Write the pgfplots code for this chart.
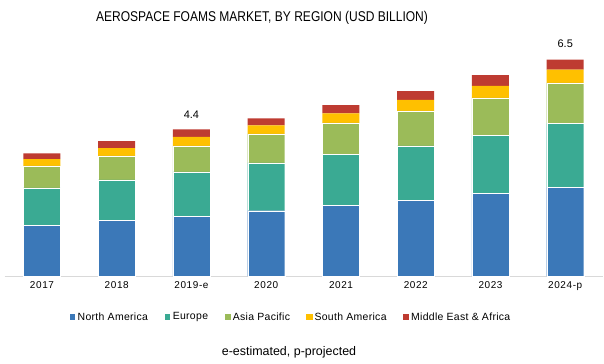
\documentclass[border=0pt]{standalone}
\usepackage{fontspec}
\setmainfont{Liberation Sans}
\newfontfamily\narrowfont[FakeStretch=0.85]{Liberation Sans}
\newfontfamily\tickfont[LetterSpace=6]{Liberation Sans}
\newfontfamily\legfont[LetterSpace=3]{Liberation Sans}
\usepackage{pgfplots}
\pgfplotsset{compat=1.18}
\definecolor{cNA}{RGB}{59,120,184}
\definecolor{cEU}{RGB}{58,170,147}
\definecolor{cAP}{RGB}{155,187,89}
\definecolor{cSA}{RGB}{255,192,0}
\definecolor{cME}{RGB}{190,59,49}
\begin{document}
\begin{tikzpicture}[x=1bp,y=1bp]
\path[use as bounding box] (0,0) rectangle (604,363);
\begin{axis}[
  at={(4.6bp,87bp)}, anchor=south west,
  scale only axis, width=598bp, height=233.1bp,
  ybar stacked, bar width=37bp,
  xmin=-0.5, xmax=7.5, ymin=0, ymax=7,
  xtick=data,
  xticklabels={2017,2018,2019-e,2020,2021,2022,2023,2024-p},
  xticklabel style={font=\tickfont\fontsize{10}{12}\selectfont, yshift=-2bp},
  major tick length=0pt,
  axis y line=none,
  axis x line*=bottom,
  x axis line style={draw=black!15, line width=0.8bp},
  legend style={draw=none, at={(286bp,-41bp)}, anchor=center,
    font=\legfont\fontsize{10.5}{12}\selectfont, /tikz/every even column/.append style={column sep=14bp}},
  legend columns=5,
  legend image code/.code={\fill[#1] (0bp,-3bp) rectangle (6.5bp,3.5bp);},
  clip=false,
]
\addplot[fill=cNA, draw=white, line width=0.3bp] coordinates {(0,1.52) (1,1.67) (2,1.80) (3,1.96) (4,2.12) (5,2.27) (6,2.48) (7,2.66)};
\addplot[fill=cEU, draw=white, line width=0.3bp] coordinates {(0,1.13) (1,1.22) (2,1.33) (3,1.44) (4,1.53) (5,1.64) (6,1.75) (7,1.92)};
\addplot[fill=cAP, draw=white, line width=0.3bp] coordinates {(0,0.66) (1,0.72) (2,0.78) (3,0.87) (4,0.95) (5,1.05) (6,1.12) (7,1.22)};
\addplot[fill=cSA, draw=none] coordinates {(0,0.20) (1,0.23) (2,0.27) (3,0.25) (4,0.28) (5,0.33) (6,0.36) (7,0.40)};
\addplot[fill=cME, draw=none] coordinates {(0,0.17) (1,0.21) (2,0.22) (3,0.21) (4,0.25) (5,0.26) (6,0.32) (7,0.30)};
\legend{North America,Europe,Asia Pacific,South America,Middle East \& Africa}
\node[font=\fontsize{11}{13}\selectfont] at (axis cs:2,4.4) [yshift=15bp] {4.4};
\node[font=\fontsize{11}{13}\selectfont] at (axis cs:7,6.5) [yshift=16bp] {6.5};
\end{axis}
\node[font=\narrowfont\fontsize{14.2}{16}\selectfont] at (262,345) {AEROSPACE FOAMS MARKET, BY REGION (USD BILLION)};
\node[font=\fontsize{12.5}{14}\selectfont] at (289,11) {e-estimated, p-projected};
\end{tikzpicture}
\end{document}
